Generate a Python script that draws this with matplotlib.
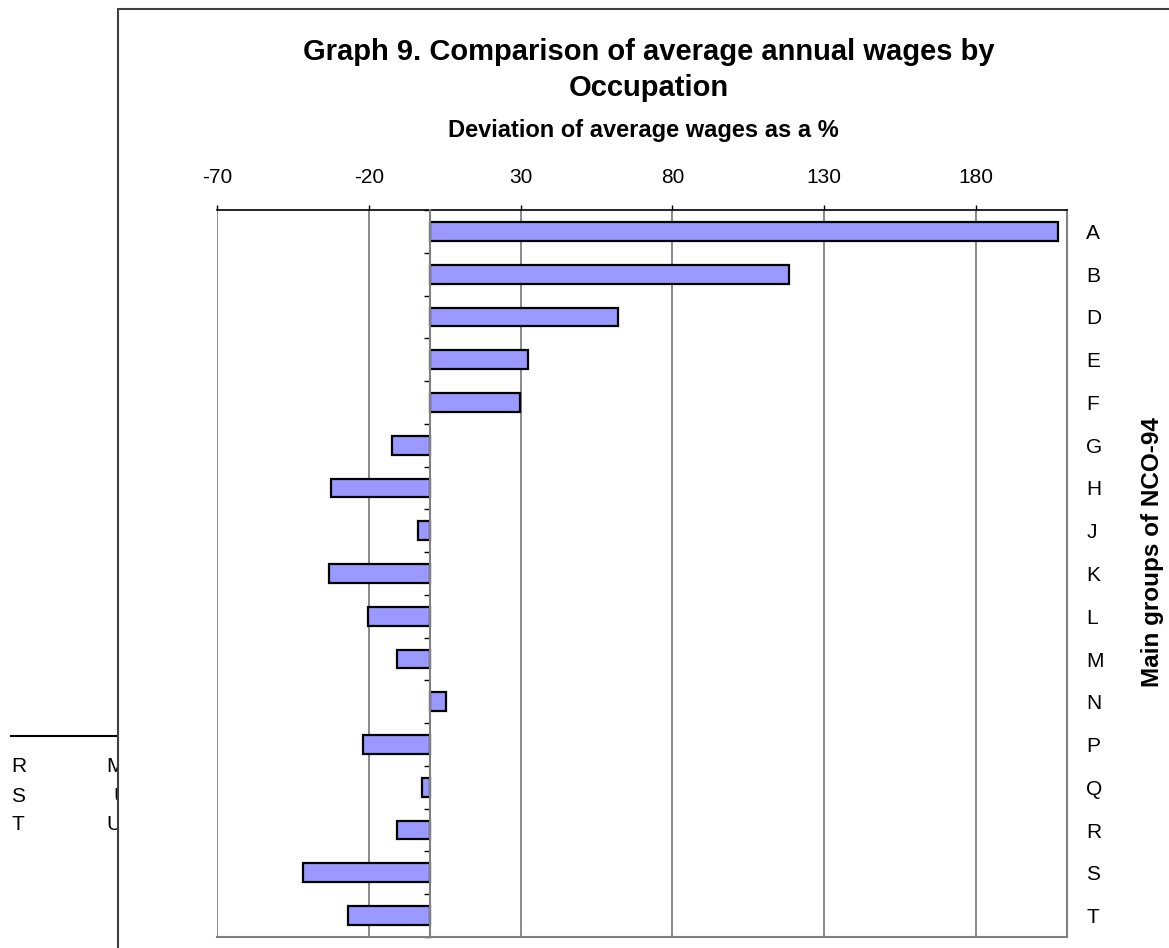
import matplotlib
matplotlib.use("Agg")
import matplotlib.pyplot as plt
from matplotlib.patches import Rectangle
from matplotlib.lines import Line2D
from matplotlib.ticker import FixedLocator

plt.rcParams['font.family'] = ['Liberation Sans', 'DejaVu Sans']
plt.rcParams['axes.unicode_minus'] = False

# Occupation main groups (NCO-94) and deviation of average annual wage, %
categories = ['A', 'B', 'D', 'E', 'F', 'G', 'H', 'J', 'K', 'L', 'M', 'N',
              'P', 'Q', 'R', 'S', 'T']
deviation = [207.0, 118.3, 62.2, 32.5, 29.9, -12.5, -32.3, -3.9, -33.0,
             -20.4, -10.6, 5.3, -21.8, -2.6, -10.6, -41.6, -27.0]
x_ticks = [-70, -20, 30, 80, 130, 180]

title_lines = ['Graph 9. Comparison of average annual wages by', 'Occupation']
subtitle_text = 'Deviation of average wages as a %'
axis_label = 'Main groups of NCO-94'

# Table fragments partly hidden behind the chart box
side_left = ['R', 'S', 'T']
side_right = ['M', 'U', 'U']

W, H = 1169, 948
fig = plt.figure(figsize=(W / 100, H / 100), dpi=100)


def fx(px):
    return px / W


def fy(py):
    return 1 - py / H


# table fragments behind the chart area
fig.add_artist(Line2D([fx(11), fx(118)], [fy(735.5), fy(735.5)],
                      color='black', lw=1.5, zorder=-3))
for txt, ypx in zip(side_left, [767, 796, 824]):
    fig.text(fx(11), fy(ypx), txt, fontsize=15, ha='left', va='center', zorder=-3)
for txt, xpx, ypx in zip(side_right, [106, 113, 106], [767, 796, 824]):
    fig.text(fx(xpx), fy(ypx), txt, fontsize=15, ha='left', va='center', zorder=-3)

# chart area box
fig.add_artist(Rectangle((fx(118), fy(1000)), fx(1200 - 118), fy(9) - fy(1000),
                         facecolor='white', edgecolor='#404040', lw=1.5, zorder=-1))

ax = fig.add_axes([fx(217), fy(937), fx(1067 - 217), fy(210) - fy(937)])
ax.set_facecolor('none')

ypos = list(range(len(categories)))
ax.barh(ypos, deviation, height=0.44, color='#9999FF', edgecolor='black',
        linewidth=1.6, zorder=3)

ax.set_xlim(-70, 210)
ax.set_ylim(len(categories) - 0.5, -0.5)

# value axis on top with vertical gridlines
ax.set_xticks(x_ticks)
ax.xaxis.tick_top()
ax.tick_params(axis='x', which='major', top=True, bottom=False, length=3.6,
               width=1.0, color='black', pad=13, labelsize=15)
ax.grid(axis='x', color='#808080', lw=1.3, zorder=1)

# category axis crossing at zero
ax.spines['left'].set_position(('data', 0))
ax.spines['left'].set_color('#808080')
ax.spines['left'].set_linewidth(1.5)
ax.spines['left'].set_zorder(4)
ax.yaxis.set_major_locator(FixedLocator(ypos))
ax.yaxis.set_minor_locator(FixedLocator([i - 0.5 for i in range(len(categories) + 1)]))
ax.set_yticklabels(categories)
ax.tick_params(axis='y', which='major', left=False, right=False,
               labelleft=False, labelright=True, pad=10.5, labelsize=15)
ax.tick_params(axis='y', which='minor', left=True, right=False,
               length=4.3, width=1.0, color='black')
for lab in ax.get_yticklabels():
    lab.set_horizontalalignment('left')

ax.spines['top'].set_color('black')
ax.spines['top'].set_linewidth(1.2)
for side in ('right', 'bottom'):
    ax.spines[side].set_color('#808080')
    ax.spines[side].set_linewidth(1.5)

# titles
for line, ypx in zip(title_lines, [52, 88]):
    fig.text(fx(649), fy(ypx), line, fontsize=21, fontweight='bold',
             ha='center', va='center')
fig.text(fx(643), fy(131), subtitle_text, fontsize=17, fontweight='bold',
         ha='center', va='center')
fig.text(fx(1152), fy(552), axis_label, fontsize=17.5, fontweight='bold',
         rotation=90, ha='center', va='center')

fig.savefig('out.png', dpi=100)
